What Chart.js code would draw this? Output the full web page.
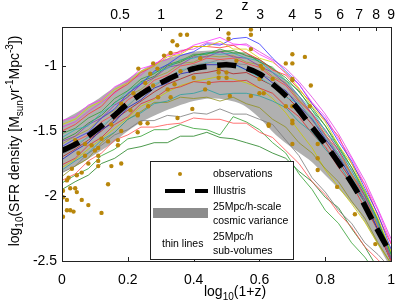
<!DOCTYPE html>
<html>
<head>
<meta charset="utf-8">
<script src="https://cdn.jsdelivr.net/npm/chart.js@4.4.1/dist/chart.umd.min.js"></script>
<style>
  html, body { margin: 0; padding: 0; background: #fff; }
  #wrap { width: 406px; height: 306px; }
</style>
</head>
<body>
<div id="wrap"><canvas id="c" width="406" height="306"></canvas></div>
<script>
// axis ticks
const xTicks = [0, 0.2, 0.4, 0.6, 0.8, 1];
const yTicks = [-2.5, -2, -1.5, -1];
const zLabels = ['0.5', '1', '2', '3', '4', '5', '6', '7', '8', '9'];
const zValues = [0.5, 1, 2, 3, 4, 5, 6, 7, 8, 9];

// Illustris curve + cosmic variance band (same x grid)
const illX = [0, 0.05, 0.1, 0.15, 0.2, 0.25, 0.3, 0.35, 0.4, 0.45, 0.5, 0.55, 0.6, 0.65, 0.7, 0.75, 0.8, 0.85, 0.9, 0.95, 1];
const illustris = [-1.65, -1.59, -1.50, -1.40, -1.29, -1.20, -1.13, -1.07, -1.02, -1.00, -0.99, -1.01, -1.06, -1.16, -1.28, -1.44, -1.60, -1.78, -1.98, -2.22, -2.45];
const bandUpper = [-1.42, -1.35, -1.27, -1.18, -1.10, -1.02, -0.96, -0.92, -0.89, -0.88, -0.88, -0.90, -0.95, -1.04, -1.17, -1.33, -1.52, -1.70, -1.90, -2.14, -2.40];
const bandLower = [-1.82, -1.76, -1.68, -1.60, -1.50, -1.42, -1.36, -1.31, -1.27, -1.25, -1.26, -1.30, -1.40, -1.53, -1.63, -1.72, -1.84, -1.97, -2.12, -2.33, -2.56];

// 25Mpc/h sub-volumes
const subX = [0, 0.04, 0.08, 0.12, 0.16, 0.2, 0.24, 0.28, 0.32, 0.36, 0.4, 0.44, 0.48, 0.52, 0.56, 0.6, 0.64, 0.68, 0.72, 0.76, 0.8, 0.84, 0.88, 0.92, 0.96, 1];
const subLines = [
  [-1.42, -1.39, -1.30, -1.26, -1.16, -1.11, -1.02, -0.99, -0.92, -0.90, -0.84, -0.81, -0.78, -0.83, -0.84, -0.91, -0.96, -1.06, -1.14, -1.28, -1.39, -1.56, -1.71, -1.91, -2.11, -2.36],
  [-1.45, -1.41, -1.32, -1.27, -1.18, -1.13, -1.04, -1.00, -0.93, -0.91, -0.85, -0.85, -0.81, -0.87, -0.87, -0.94, -0.97, -1.05, -1.17, -1.31, -1.43, -1.61, -1.75, -1.96, -2.17, -2.43],
  [-1.62, -1.56, -1.51, -1.40, -1.33, -1.21, -1.14, -1.04, -0.99, -0.92, -0.89, -0.83, -0.84, -0.79, -0.78, -0.83, -0.94, -1.04, -1.14, -1.29, -1.41, -1.58, -1.73, -1.94, -2.14, -2.41],
  [-1.50, -1.45, -1.37, -1.31, -1.20, -1.14, -1.05, -1.00, -0.91, -0.89, -0.85, -0.85, -0.86, -0.84, -0.90, -0.95, -1.03, -1.07, -1.18, -1.29, -1.42, -1.54, -1.75, -1.91, -2.15, -2.37],
  [-1.52, -1.48, -1.40, -1.35, -1.25, -1.19, -1.10, -1.06, -0.99, -0.96, -0.91, -0.91, -0.87, -0.90, -0.90, -0.97, -1.01, -1.11, -1.19, -1.34, -1.46, -1.63, -1.78, -1.98, -2.18, -2.45],
  [-1.55, -1.49, -1.46, -1.36, -1.29, -1.19, -1.13, -1.05, -1.02, -0.95, -0.94, -0.90, -0.91, -0.90, -0.94, -0.96, -1.05, -1.11, -1.23, -1.34, -1.50, -1.62, -1.81, -1.97, -2.21, -2.45],
  [-1.58, -1.54, -1.45, -1.40, -1.30, -1.24, -1.14, -1.09, -1.01, -0.99, -0.93, -0.93, -0.89, -0.93, -0.94, -1.00, -1.05, -1.14, -1.23, -1.37, -1.49, -1.65, -1.80, -2.00, -2.20, -2.48],
  [-1.60, -1.54, -1.49, -1.40, -1.34, -1.23, -1.18, -1.09, -1.05, -0.98, -0.97, -0.92, -0.93, -0.92, -0.97, -0.99, -1.08, -1.13, -1.26, -1.36, -1.51, -1.64, -1.83, -1.99, -2.23, -2.47],
  [-1.65, -1.58, -1.53, -1.43, -1.37, -1.26, -1.20, -1.11, -1.07, -1.00, -0.98, -0.94, -0.95, -0.94, -0.98, -1.01, -1.09, -1.15, -1.27, -1.37, -1.53, -1.65, -1.84, -2.00, -2.24, -2.50],
  [-1.68, -1.63, -1.54, -1.48, -1.38, -1.31, -1.21, -1.16, -1.08, -1.05, -0.99, -0.98, -0.95, -0.98, -0.99, -1.06, -1.10, -1.20, -1.28, -1.42, -1.53, -1.69, -1.83, -2.03, -2.23, -2.51],
  [-1.72, -1.65, -1.59, -1.49, -1.43, -1.32, -1.26, -1.17, -1.13, -1.06, -1.04, -0.99, -0.99, -0.98, -1.03, -1.05, -1.13, -1.19, -1.31, -1.41, -1.56, -1.69, -1.87, -2.03, -2.26, -2.50],
  [-1.47, -1.43, -1.35, -1.28, -1.21, -1.12, -1.07, -0.98, -0.95, -0.88, -0.87, -0.82, -0.83, -0.84, -0.83, -0.89, -0.95, -1.02, -1.12, -1.24, -1.37, -1.52, -1.70, -1.88, -2.10, -2.33],
  [-1.57, -1.52, -1.44, -1.38, -1.28, -1.22, -1.12, -1.08, -1.00, -0.97, -0.92, -0.90, -0.89, -0.88, -0.92, -0.95, -1.02, -1.09, -1.20, -1.32, -1.46, -1.61, -1.78, -1.96, -2.19, -2.44],
  [-1.80, -1.73, -1.67, -1.57, -1.51, -1.41, -1.36, -1.29, -1.27, -1.22, -1.21, -1.18, -1.22, -1.21, -1.21, -1.23, -1.27, -1.32, -1.43, -1.51, -1.64, -1.75, -1.91, -2.05, -2.26, -2.48],
  [-1.76, -1.71, -1.61, -1.55, -1.45, -1.39, -1.29, -1.25, -1.18, -1.16, -1.12, -1.13, -1.12, -1.12, -1.11, -1.17, -1.21, -1.31, -1.39, -1.52, -1.62, -1.78, -1.91, -2.09, -2.26, -2.50],
  [-1.85, -1.77, -1.71, -1.59, -1.51, -1.41, -1.35, -1.28, -1.28, -1.24, -1.25, -1.24, -1.27, -1.24, -1.29, -1.32, -1.41, -1.47, -1.59, -1.67, -1.79, -1.89, -2.04, -2.17, -2.36, -2.52],
  [-1.82, -1.77, -1.67, -1.61, -1.53, -1.49, -1.42, -1.42, -1.38, -1.39, -1.36, -1.37, -1.33, -1.37, -1.37, -1.41, -1.45, -1.57, -1.69, -1.86, -1.97, -2.11, -2.21, -2.36, -2.45, -2.56],
  [-1.88, -1.83, -1.73, -1.67, -1.57, -1.53, -1.47, -1.47, -1.45, -1.44, -1.40, -1.41, -1.41, -1.44, -1.44, -1.51, -1.55, -1.65, -1.75, -1.89, -1.99, -2.13, -2.24, -2.39, -2.49, -2.60],
  [-1.90, -1.84, -1.79, -1.69, -1.64, -1.56, -1.54, -1.49, -1.49, -1.45, -1.48, -1.49, -1.53, -1.39, -1.43, -1.49, -1.59, -1.67, -1.83, -1.95, -2.11, -2.21, -2.36, -2.47, -2.61, -2.70],
  [-1.95, -1.89, -1.84, -1.75, -1.71, -1.64, -1.62, -1.59, -1.59, -1.54, -1.54, -1.51, -1.55, -1.56, -1.59, -1.62, -1.67, -1.71, -1.81, -1.89, -2.01, -2.09, -2.25, -2.39, -2.56, -2.70],
  [-1.66, -1.60, -1.55, -1.46, -1.39, -1.30, -1.22, -1.14, -1.10, -1.03, -1.01, -0.97, -0.98, -0.99, -1.03, -1.09, -1.15, -1.24, -1.29, -1.40, -1.54, -1.67, -1.85, -2.02, -2.22, -2.47],
  [-1.78, -1.72, -1.64, -1.56, -1.48, -1.40, -1.31, -1.26, -1.20, -1.15, -1.12, -1.10, -1.08, -1.10, -1.13, -1.17, -1.25, -1.36, -1.50, -1.63, -1.80, -1.93, -2.06, -2.20, -2.37, -2.52],
  [-1.70, -1.64, -1.57, -1.50, -1.41, -1.34, -1.27, -1.20, -1.14, -1.10, -1.06, -1.05, -1.03, -1.06, -1.05, -1.10, -1.15, -1.23, -1.33, -1.45, -1.58, -1.73, -1.88, -2.05, -2.27, -2.50]
];
const subColors = ['#ff33ff', '#d4d400', '#3333ff', '#ff3333', '#33a033', '#22b5b5', '#8a3ab0', '#a0a030',
  '#ff4040', '#888888', '#2020c0', '#e040e0', '#2e8b2e', '#2aa0a0', '#e03030', '#909020',
  '#7a7a7a', '#ff5050', '#30a030', '#208020', '#40c0c0', '#c8c800', '#b02020'];

// observations
const obsX = [0.18, 0.23, 0.23, 0.16, 0.26, 0.23, 0.07, 0.09, 0.11, 0.10, 0.05, 0.07, 0.11, 0.11, 0.11, 0.17, 0.18, 0.15, 0.08, 0.06,
  0.03, 0.045, 0.02, 0.015, 0.003, 0.04, 0.025, 0.045, 0.14, 0.003, 0.015, 0.06, 0.08, 0.015, 0.025, 0.035, 0.12, 0.003, 0.04, 0.12,
  0.14, 0.36, 0.38, 0.506, 0.506, 0.574, 0.574, 0.35, 0.336, 0.31, 0.33, 0.277, 0.232, 0.268, 0.253, 0.277, 0.241, 0.292, 0.321, 0.342,
  0.36, 0.40, 0.41, 0.435, 0.42, 0.476, 0.476, 0.476, 0.50, 0.50, 0.446, 0.51, 0.53, 0.574, 0.61, 0.613, 0.64, 0.67, 0.628, 0.396,
  0.351, 0.238, 0.33, 0.262, 0.70, 0.738, 0.68, 0.70, 0.70, 0.70, 0.756, 0.604, 0.60, 0.60, 0.574, 0.68, 0.70, 0.70, 0.628, 0.70,
  0.753, 0.70, 0.777, 0.777, 0.777, 0.836, 0.89, 0.952, 0.217, 0.208, 0.18, 0.17, 0.29, 0.15];
const obsY = [-1.29, -1.37, -1.38, -1.38, -1.44, -1.51, -1.60, -1.61, -1.63, -1.65, -1.67, -1.69, -1.69, -1.73, -1.77, -1.61, -1.75, -1.77, -1.75, -1.82,
  -1.79, -1.84, -1.86, -1.88, -1.96, -1.94, -1.94, -1.97, -1.91, -2.01, -2.03, -2.03, -2.07, -2.11, -2.11, -2.12, -2.13, -2.16, -1.57, -1.56,
  -1.58, -0.76, -0.76, -0.75, -0.79, -0.72, -0.76, -0.84, -0.81, -0.92, -0.90, -0.98, -1.02, -1.06, -1.13, -1.15, -1.21, -1.24, -1.18, -1.14,
  -1.04, -1.09, -1.02, -1.18, -0.94, -1.02, -1.05, -1.09, -1.05, -1.09, -1.13, -1.23, -0.96, -0.87, -1.02, -1.21, -1.10, -1.21, -1.46, -1.33,
  -1.40, -1.44, -1.24, -1.31, -0.91, -0.93, -0.98, -0.98, -1.10, -1.11, -1.15, -1.00, -1.10, -1.21, -1.23, -1.31, -1.31, -1.42, -1.45, -1.60,
  -1.31, -1.44, -1.60, -1.71, -1.80, -1.93, -2.14, -2.37, -1.21, -1.34, -1.50, -1.57, -1.02, -1.45];

const FONT = '"Liberation Sans", Arial, sans-serif';
Chart.defaults.font.family = FONT;
Chart.defaults.color = '#000';

const pts = (xs, ys) => xs.map((x, i) => ({ x: x, y: ys[i] }));

const datasets = [];
datasets.push({
  label: 'Illustris', data: pts(illX, illustris), borderColor: '#000', borderWidth: 5.5,
  borderDash: [19, 11], borderCapStyle: 'butt', pointRadius: 0, tension: 0.3, fill: false, order: 0
});
datasets.push({
  label: 'observations', data: pts(obsX, obsY), showLine: false, pointRadius: 2.2,
  pointBackgroundColor: '#b8860b', pointBorderWidth: 0, order: 1
});
subLines.forEach((ys, i) => {
  datasets.push({
    label: 'sub' + i, data: pts(subX, ys), borderColor: subColors[i], borderWidth: 0.8,
    pointRadius: 0, tension: 0, fill: false, order: 5
  });
});
datasets.push({
  label: 'band upper', data: pts(illX, bandUpper), borderWidth: 0, pointRadius: 0,
  backgroundColor: '#b0b0b0', fill: '+1', tension: 0.3, order: 10
});
datasets.push({
  label: 'band lower', data: pts(illX, bandLower), borderWidth: 0, pointRadius: 0,
  fill: false, tension: 0.3, order: 10
});

function richText(ctx, parts, x, y, size) {
  const small = Math.round(size * 0.72);
  let w = 0;
  parts.forEach(([t, k]) => { ctx.font = (k ? small : size) + 'px ' + FONT; w += ctx.measureText(t).width; });
  let cx = x - w / 2;
  parts.forEach(([t, k]) => {
    ctx.font = (k ? small : size) + 'px ' + FONT;
    const dy = k === 1 ? size * 0.3 : (k === 2 ? -size * 0.42 : 0);
    ctx.fillText(t, cx, y + dy);
    cx += ctx.measureText(t).width;
  });
}

const decor = {
  id: 'decor',
  beforeDraw(chart) {
    const ctx = chart.ctx;
    ctx.save();
    ctx.fillStyle = '#fff';
    ctx.fillRect(0, 0, chart.width, chart.height);
    ctx.restore();
  },
  afterDraw(chart) {
    const ctx = chart.ctx, a = chart.chartArea;
    const xs = chart.scales.x, ys = chart.scales.y, zs = chart.scales.x2;
    ctx.save();
    ctx.strokeStyle = '#222';
    ctx.lineWidth = 1;
    // inward ticks
    ctx.beginPath();
    xTicks.forEach(v => { const p = Math.round(xs.getPixelForValue(v)) + 0.5; ctx.moveTo(p, a.bottom); ctx.lineTo(p, a.bottom - 4); });
    zValues.forEach(z => { const p = Math.round(zs.getPixelForValue(Math.log10(1 + z))) + 0.5; ctx.moveTo(p, a.top); ctx.lineTo(p, a.top + 4); });
    yTicks.forEach(v => { const p = Math.round(ys.getPixelForValue(v)) + 0.5; ctx.moveTo(a.left, p); ctx.lineTo(a.left + 4, p); });
    ctx.stroke();
    ctx.strokeRect(Math.round(a.left) + 0.5, Math.round(a.top) + 0.5, Math.round(a.right - a.left), Math.round(a.bottom - a.top));

    // axis titles
    ctx.fillStyle = '#000';
    ctx.textAlign = 'left';
    ctx.textBaseline = 'alphabetic';
    richText(ctx, [['log', 0], ['10', 1], ['(1+z)', 0]], 235, 296, 14);
    richText(ctx, [['z', 0]], 245, 10, 14);
    ctx.save();
    ctx.translate(19, 141);
    ctx.rotate(-Math.PI / 2);
    richText(ctx, [['log', 0], ['10', 1], ['(SFR density [M', 0], ['sun', 1], ['yr', 0], ['-1', 2], ['Mpc', 0], ['-3', 2], ['])', 0]], 0, 0, 14);
    ctx.restore();

    // legend box
    ctx.fillStyle = '#fff';
    ctx.fillRect(150.5, 161.5, 143, 98);
    ctx.strokeStyle = '#222';
    ctx.strokeRect(150.5, 161.5, 143, 98);
    ctx.fillStyle = '#b8860b';
    ctx.beginPath();
    ctx.arc(180, 174, 2, 0, Math.PI * 2);
    ctx.fill();
    ctx.fillStyle = '#000';
    ctx.fillRect(165, 189, 20, 4);
    ctx.fillRect(195, 189, 13, 4);
    ctx.fillStyle = '#8c8c8c';
    ctx.fillRect(153, 208, 55, 10);
    ctx.fillStyle = '#000';
    ctx.font = '10.5px ' + FONT;
    ctx.textBaseline = 'middle';
    ctx.fillText('observations', 213, 174);
    ctx.fillText('Illustris', 213, 191);
    ctx.fillText('25Mpc/h-scale', 213, 207);
    ctx.fillText('cosmic variance', 213, 221);
    ctx.fillText('thin lines', 162, 244);
    ctx.fillText('25Mpc/h', 213, 237);
    ctx.fillText('sub-volumes', 213, 251);
    ctx.restore();
  }
};

new Chart(document.getElementById('c'), {
  type: 'line',
  data: { datasets: datasets },
  options: {
    responsive: false,
    animation: false,
    events: [],
    layout: { padding: { left: 0, right: 8, top: 0, bottom: 0 } },
    plugins: { legend: { display: false }, tooltip: { enabled: false } },
    scales: {
      x: {
        type: 'linear', position: 'bottom', min: 0, max: 1,
        afterBuildTicks: s => { s.ticks = xTicks.map(v => ({ value: v })); },
        afterFit: s => { s.height = 45; },
        ticks: { font: { size: 14 }, padding: 11, maxRotation: 0, autoSkip: false, callback: v => String(v) },
        grid: { display: false, drawTicks: false }, border: { display: false }
      },
      x2: {
        type: 'linear', position: 'top', min: 0, max: 1,
        afterBuildTicks: s => { s.ticks = zValues.map(z => ({ value: Math.log10(1 + z) })); },
        afterFit: s => { s.height = 27; },
        ticks: { font: { size: 14 }, padding: 3, maxRotation: 0, autoSkip: false, callback: (v, i) => zLabels[i] },
        grid: { display: false, drawTicks: false }, border: { display: false }
      },
      y: {
        type: 'linear', min: -2.5, max: -0.7,
        afterBuildTicks: s => { s.ticks = yTicks.map(v => ({ value: v })); },
        afterFit: s => { s.width = 62; },
        ticks: { font: { size: 14 }, padding: 5, callback: v => String(v) },
        grid: { display: false, drawTicks: false }, border: { display: false }
      }
    }
  },
  plugins: [decor]
});
</script>
</body>
</html>
